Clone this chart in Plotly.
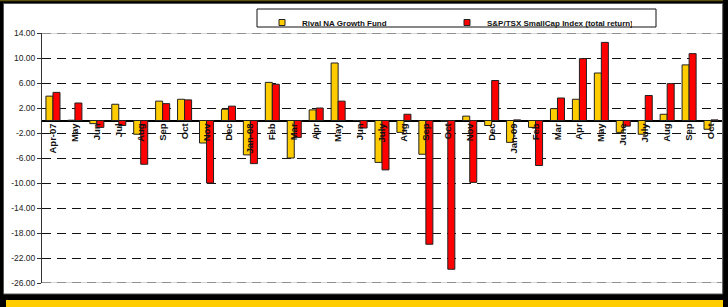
import plotly.graph_objects as go

categories = ["Apr-07", "May", "Jun", "Jul", "Aug", "Sep", "Oct", "Nov", "Dec",
              "Jan-08", "Feb", "Mar", "Apr", "May", "Jun", "July", "Aug", "Sep", "Oct", "Nov", "Dec",
              "Jan-09", "Feb", "Mar", "Apr", "May", "June", "July", "Aug", "Sep", "Oct"]
fund_returns = [3.9, 0.05, -0.5, 2.6, -2.2, 3.1, 3.4, -3.6, 1.8,
                -5.5, 6.1, -6.0, 1.7, 9.2, 0.0, -6.7, -1.9, -5.4, -0.1, 0.7, -0.8,
                -3.5, -1.1, 1.9, 3.4, 7.6, -1.9, -2.2, 1.0, 8.9, -1.4]
index_returns = [4.5, 2.8, -1.1, -0.8, -7.0, 2.7, 3.3, -10.0, 2.3,
                 -6.9, 5.8, -2.7, 2.0, 3.1, -1.2, -7.9, 1.0, -19.8, -23.8, -9.9, 6.4,
                 0.1, -7.2, 3.6, 9.9, 12.5, -0.9, 4.0, 5.9, 10.7, 0.1]
y_ticks = [14, 10, 6, 2, -2, -6, -10, -14, -18, -22, -26]
y_tick_labels = ["14.00", "10.00", "6.00", "2.00", "-2.00", "-6.00", "-10.00",
                 "-14.00", "-18.00", "-22.00", "-26.00"]
series_names = ["Rival NA Growth Fund", "S&P/TSX SmallCap Index (total return)"]
series_colors = ["#FFCC00", "#FF0000"]

W, H = 728, 307
L, R, T, B = 42, 6, 33, 24
PW, PH = W - L - R, H - T - B


def px(x):
    return (x - L) / PW


def py(y):
    return (H - B - y) / PH


FONT = "Liberation Sans, Arial, sans-serif"
xpos = list(range(len(categories)))

fig = go.Figure()
for vals, name, col in zip([fund_returns, index_returns], series_names, series_colors):
    fig.add_bar(x=xpos, y=vals, name=name, showlegend=False,
                marker=dict(color=col, line=dict(color="#222222", width=1)))
for name, col in zip(series_names, series_colors):
    fig.add_scatter(x=[None], y=[None], mode="markers", name=name,
                    marker=dict(symbol="square", size=6, color=col,
                                line=dict(color="#222222", width=1)))

shapes = [
    # top olive line
    dict(type="rect", xref="paper", yref="paper", x0=px(0), x1=px(723), y0=py(1.2), y1=py(0),
         fillcolor="#5e5010", line_width=0, layer="below"),
    # white chart area with inner grey border
    dict(type="rect", xref="paper", yref="paper", x0=px(3.5), x1=px(722.7), y0=py(294), y1=py(3.5),
         fillcolor="white", line=dict(color="#555555", width=1), layer="below"),
    # bottom yellow strip
    dict(type="rect", xref="paper", yref="paper", x0=px(6), x1=px(723), y0=py(307), y1=py(300),
         fillcolor="#FFCC00", line_width=0, layer="below"),
    # legend box
    dict(type="rect", xref="paper", yref="paper", x0=px(257), x1=px(656), y0=py(27), y1=py(9),
         fillcolor="white", line=dict(color="#111111", width=1), layer="above"),
]
for yv in [14, -26]:
    shapes.append(dict(type="line", xref="paper", yref="y", x0=0, x1=1, y0=yv, y1=yv,
                       line=dict(color="#c8c8c8", width=1.5), layer="above"))
    shapes.append(dict(type="line", xref="paper", yref="y", x0=0, x1=1, y0=yv, y1=yv,
                       line=dict(color="#7a7a7a", width=1.5, dash="9px,6px"), layer="above"))

fig.update_layout(
    width=W, height=H, autosize=False,
    margin=dict(l=L, r=R, t=T, b=B, pad=0),
    paper_bgcolor="black", plot_bgcolor="white",
    barmode="group", bargap=0.36, bargroupgap=0,
    font=dict(family=FONT, color="#111111"),
    shapes=shapes,
    legend=dict(orientation="h", x=px(262), y=py(8), xanchor="left", yanchor="top",
                bgcolor="rgba(0,0,0,0)", borderwidth=0, entrywidth=140,
                font=dict(family=FONT, size=8, weight="bold", color="#111111"),
                itemwidth=30, tracegroupgap=0),
    xaxis=dict(range=[-0.5, len(categories) - 0.5], tickmode="array", tickvals=xpos,
               ticktext=categories, tickangle=-90, anchor="free", position=(0 - (-26)) / 40,
               showgrid=False, showline=False, zeroline=False, ticks="",
               tickfont=dict(family=FONT, size=9.5, weight="bold", color="#111111")),
    yaxis=dict(range=[-26, 14], tickmode="array", tickvals=y_ticks, ticktext=y_tick_labels,
               showgrid=True, gridcolor="#111111", gridwidth=1, griddash="9px,6px",
               zeroline=True, zerolinecolor="#000000", zerolinewidth=1.5,
               showline=True, linecolor="#333333", linewidth=1,
               ticks="outside", ticklen=4, tickcolor="#333333",
               tickfont=dict(family=FONT, size=8.5, color="#222222")),
)

fig.write_html("out.html", config={"displayModeBar": False},
               post_script="document.body.style.margin='0';document.body.style.overflow='hidden';")
